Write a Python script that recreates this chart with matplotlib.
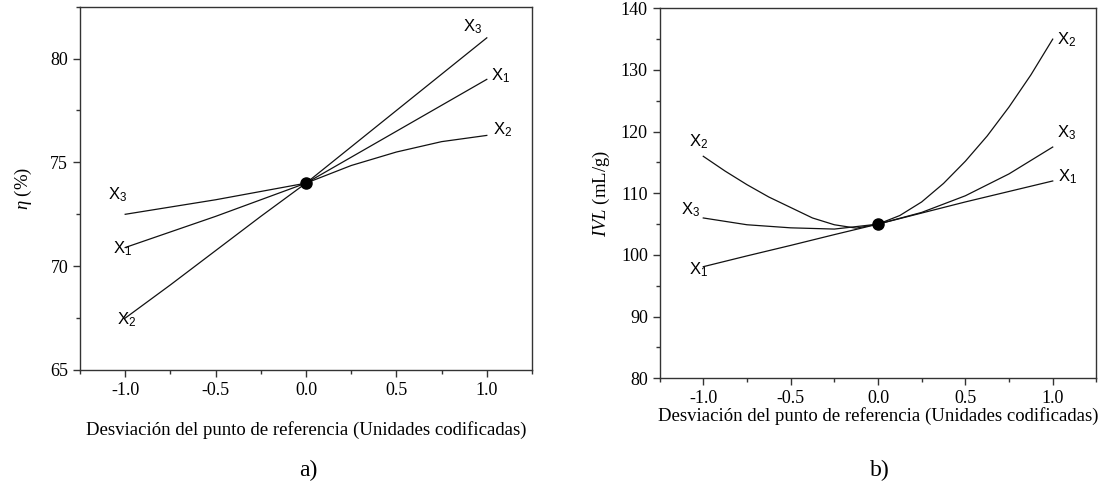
import numpy as np
import matplotlib.pyplot as plt
from matplotlib.ticker import MultipleLocator

plt.rcParams['font.family'] = ['Liberation Serif', 'DejaVu Serif']
plt.rcParams['mathtext.fontset'] = 'custom'
plt.rcParams['mathtext.rm'] = 'Liberation Serif'
plt.rcParams['mathtext.it'] = 'Liberation Serif:italic'
plt.rcParams['mathtext.sf'] = 'Liberation Sans'

# desviacion (unidades codificadas)
dev = [-1.0, -0.75, -0.5, -0.25, 0.0, 0.25, 0.5, 0.75, 1.0]
dev_fine = [-1.0, -0.875, -0.75, -0.625, -0.5, -0.375, -0.25, -0.125, 0.0,
            0.125, 0.25, 0.375, 0.5, 0.625, 0.75, 0.875, 1.0]

# a) eficiencia eta (%)
eta_x1 = [70.9, 71.65, 72.4, 73.2, 74.0, 75.25, 76.5, 77.75, 79.0]
eta_x2 = [67.5, 69.1, 70.75, 72.4, 74.0, 74.85, 75.5, 76.0, 76.3]
eta_x3 = [72.5, 72.85, 73.2, 73.6, 74.0, 75.75, 77.5, 79.25, 81.0]
eta_ref = 74.0

# b) IVL (mL/g)
ivl_x1 = [98.1, 99.85, 101.55, 103.3, 105.0, 106.8, 108.6, 110.3, 112.0]
ivl_x2 = [116.0, 113.6, 111.4, 109.4, 107.7, 106.0, 104.9, 104.35, 105.0,
          106.4, 108.6, 111.6, 115.2, 119.3, 124.0, 129.2, 135.0]
ivl_x3 = [106.0, 104.9, 104.4, 104.2, 105.0, 106.9, 109.6, 113.15, 117.5]
ivl_ref = 105.0

# etiquetas de las curvas: (texto, x, y)
lab_a = [('X_3', 0.895, 81.55), ('X_1', 1.053, 79.15), ('X_2', 1.06, 76.55),
         ('X_3', -1.07, 73.42), ('X_1', -1.04, 70.86), ('X_2', -1.02, 67.4)]
lab_b = [('X_2', 1.054, 134.97), ('X_3', 1.054, 119.8), ('X_1', 1.058, 112.7),
         ('X_2', -1.054, 118.4), ('X_3', -1.098, 107.3), ('X_1', -1.054, 97.6)]

W, H = 1111, 492
fig = plt.figure(figsize=(W / 100, H / 100), dpi=100)
ax1 = fig.add_axes([80 / W, (H - 370) / H, 452 / W, 363.3 / H])
ax2 = fig.add_axes([659.6 / W, (H - 378.3) / H, 436.8 / W, 370 / H])

xlab = 'Desviación del punto de referencia (Unidades codificadas)'


def style(ax):
    for s in ax.spines.values():
        s.set_linewidth(1.0)
        s.set_color('#333333')
    ax.set_xlim(-1.25, 1.25)
    ax.xaxis.set_major_locator(MultipleLocator(0.5))
    ax.xaxis.set_minor_locator(MultipleLocator(0.25))
    ax.tick_params(which='major', direction='out', length=5, width=1,
                   labelsize=13, color='#333333')
    ax.tick_params(which='minor', direction='out', length=3, width=1,
                   color='#333333')
    ax.tick_params(top=False, right=False)
    ax.set_xticks([-1.0, -0.5, 0.0, 0.5, 1.0])
    ax.set_xticklabels(['-1.0', '-0.5', '0.0', '0.5', '1.0'])


lc = '#111111'
lw = 0.9

# panel a
ax1.plot(dev, eta_x1, color=lc, lw=lw)
ax1.plot(dev, eta_x2, color=lc, lw=lw)
ax1.plot(dev, eta_x3, color=lc, lw=lw)
ax1.plot([0.0], [eta_ref], 'o', color='black', ms=8)
style(ax1)
ax1.set_ylim(65, 82.5)
ax1.yaxis.set_major_locator(MultipleLocator(5))
ax1.yaxis.set_minor_locator(MultipleLocator(2.5))
ax1.set_ylabel(r'$\eta$ (%)', fontsize=13.5, labelpad=12)
ax1.set_xlabel(xlab, fontsize=13.5, labelpad=16)
for t, x, y in lab_a:
    n = t[-1]
    ax1.text(x + 0.025, y, r'$\mathsf{X}_{\mathsf{%s}}$' % n, fontsize=12,
             ha='center', va='center')

# panel b
ax2.plot(dev, ivl_x1, color=lc, lw=lw)
ax2.plot(dev_fine, ivl_x2, color=lc, lw=lw)
ax2.plot(dev, ivl_x3, color=lc, lw=lw)
ax2.plot([0.0], [ivl_ref], 'o', color='black', ms=8)
style(ax2)
ax2.set_ylim(80, 140)
ax2.yaxis.set_major_locator(MultipleLocator(10))
ax2.yaxis.set_minor_locator(MultipleLocator(5))
ax2.set_ylabel(r'$\mathit{IVL}$ (mL/g)', fontsize=13.5, labelpad=6)
ax2.set_xlabel(xlab, fontsize=13.5, labelpad=0)
for t, x, y in lab_b:
    n = t[-1]
    ax2.text(x + 0.025, y, r'$\mathsf{X}_{\mathsf{%s}}$' % n, fontsize=12,
             ha='center', va='center')

fig.text(308 / W, 1 - 470 / H, 'a)', fontsize=17, ha='center', va='center')
fig.text(880 / W, 1 - 470 / H, 'b)', fontsize=17, ha='center', va='center')

fig.savefig('out.png', dpi=100, facecolor='white')
